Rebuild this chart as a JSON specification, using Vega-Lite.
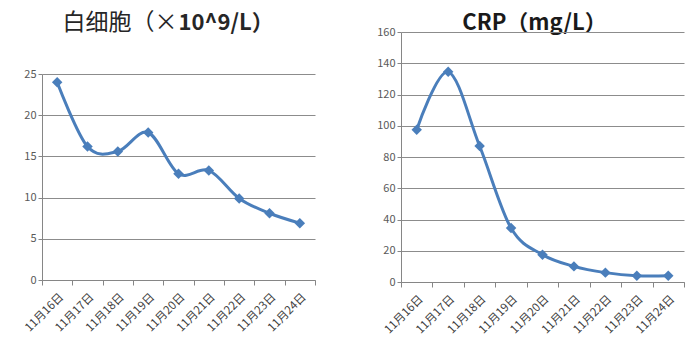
{
  "$schema": "https://vega.github.io/schema/vega-lite/v6.json",
  "padding": {"top": 4, "left": 22, "right": 4, "bottom": 4},
  "config": {
    "font": "Noto Sans CJK SC",
    "view": {"stroke": null},
    "axis": {"domainColor": "#868686", "tickColor": "#868686", "gridColor": "#8c8c8c", "labelColor": "#595959", "labelFontSize": 11}
  },
  "datasets": {
    "days": [
      {"date": "11月16日", "wbc": 24.0, "crp": 97.5},
      {"date": "11月17日", "wbc": 16.2, "crp": 134.5},
      {"date": "11月18日", "wbc": 15.6, "crp": 87},
      {"date": "11月19日", "wbc": 17.9, "crp": 34.5},
      {"date": "11月20日", "wbc": 12.9, "crp": 17.5},
      {"date": "11月21日", "wbc": 13.3, "crp": 10},
      {"date": "11月22日", "wbc": 9.9, "crp": 6},
      {"date": "11月23日", "wbc": 8.1, "crp": 4},
      {"date": "11月24日", "wbc": 6.9, "crp": 4}
    ]
  },
  "hconcat": [
    {
      "vconcat": [
        {
          "width": 273, "height": 28,
          "data": {"values": [{"a": "白细胞（×", "b": "10^9/L）"}]},
          "layer": [
            {"mark": {"type": "text", "align": "right", "baseline": "middle", "dy": 5, "dx": -1, "fontSize": 23, "color": "#262626"}, "encoding": {"text": {"field": "a"}}},
            {"mark": {"type": "text", "align": "left", "baseline": "middle", "dy": 5, "fontSize": 22, "fontWeight": "bold", "color": "#262626"}, "encoding": {"text": {"field": "b"}}}
          ]
        },
        {
          "width": 273, "height": 206,
          "data": {"name": "days"},
          "mark": {"type": "line", "interpolate": "cardinal", "color": "#4a7ebb", "strokeWidth": 3, "point": {"shape": "diamond", "filled": true, "size": 110, "color": "#4a7ebb"}},
          "encoding": {
            "x": {"field": "date", "type": "ordinal", "sort": null, "scale": {"type": "band", "paddingInner": 0, "paddingOuter": 0}, "axis": {"title": null, "labelAngle": -45, "tickBand": "extent", "tickSize": 5, "labelFontSize": 11.5, "labelFontWeight": "normal", "labelColor": "#3f3f3f", "labelPadding": 6, "grid": false}},
            "y": {"field": "wbc", "type": "quantitative", "scale": {"domain": [0, 25], "nice": false}, "axis": {"title": null, "values": [0, 5, 10, 15, 20, 25], "tickSize": 4, "grid": true}}
          }
        }
      ],
      "spacing": 42,
      "bounds": "flush"
    },
    {
      "vconcat": [
        {
          "width": 283, "height": 28,
          "data": {"values": [{"t": "CRP（mg/L）"}]},
          "mark": {"type": "text", "align": "center", "baseline": "middle", "dy": 5, "dx": -8, "fontSize": 22, "fontWeight": "bold", "color": "#1a1a1a"},
          "encoding": {"text": {"field": "t"}}
        },
        {
          "width": 283, "height": 250,
          "data": {"name": "days"},
          "mark": {"type": "line", "interpolate": "cardinal", "color": "#4a7ebb", "strokeWidth": 3, "point": {"shape": "diamond", "filled": true, "size": 110, "color": "#4a7ebb"}},
          "encoding": {
            "x": {"field": "date", "type": "ordinal", "sort": null, "scale": {"type": "band", "paddingInner": 0, "paddingOuter": 0}, "axis": {"title": null, "labelAngle": -45, "tickBand": "extent", "tickSize": 5, "labelFontSize": 11.5, "labelFontWeight": "normal", "labelColor": "#3f3f3f", "labelPadding": 6, "grid": false}},
            "y": {"field": "crp", "type": "quantitative", "scale": {"domain": [0, 160], "nice": false}, "axis": {"title": null, "values": [0, 20, 40, 60, 80, 100, 120, 140, 160], "tickSize": 4, "grid": true}}
          }
        }
      ],
      "spacing": 0,
      "bounds": "flush"
    }
  ],
  "spacing": 60
}
